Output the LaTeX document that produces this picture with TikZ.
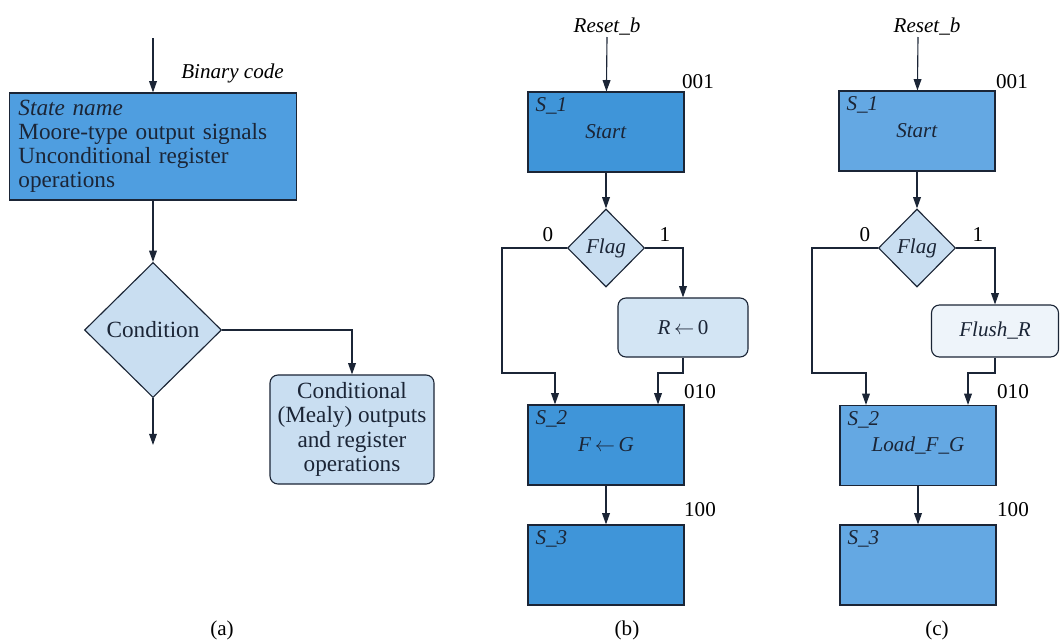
\documentclass[tikz,border=0pt]{standalone}
\usepackage{fontspec}
\setmainfont{Liberation Serif}
\usepackage{xcolor}
\usetikzlibrary{positioning, arrows.meta, shapes.geometric}
\definecolor{ink}{HTML}{1B2536}
\definecolor{stateA}{HTML}{4F9EE0}
\definecolor{stateB}{HTML}{3F95D9}
\definecolor{stateC}{HTML}{64A8E3}
\definecolor{decfill}{HTML}{C9DEF1}
\definecolor{condB}{HTML}{D3E5F4}
\definecolor{condC}{HTML}{EEF4FA}

\begin{document}
\begin{tikzpicture}[x=0.025cm, y=-0.025cm, font=\fontsize{15}{17}\selectfont,
    line width=0.8pt, draw=ink, >={Triangle[length=8pt,width=5.5pt]},
    statebox/.style={draw=ink, rectangle, inner sep=0pt, text=ink,
        minimum width=3.9cm, minimum height=2cm},
    decbox/.style={draw=ink, diamond, aspect=1, inner sep=0pt, fill=decfill, text=ink},
    condbox/.style={draw=ink, rectangle, rounded corners=0.2cm, inner sep=0pt, text=ink},
    sname/.style={anchor=north west, inner sep=2pt, xshift=0.12cm, yshift=-0.08cm,
        text=ink, font=\fontsize{15}{17}\selectfont\itshape},
    bigtext/.style={font=\fontsize{16.5}{17.2}\selectfont}]
    \useasboundingbox (0,0) rectangle (1060,640);

    % (a) ASM block elements
    \coordinate (ain) at (153,38);
    \node[right] (abin) at (176,73) {\textit{Binary code}};
    \node[statebox, bigtext, fill=stateA, minimum width=7.175cm, minimum height=2.675cm,
        text width=6.725cm, inner xsep=0.225cm, align=left] (astate) at (153,146.5)
        {\textit{State name}\\Moore-type output signals\\Unconditional register\\operations};
    \draw[->] (ain) -- (astate);
    \node[decbox, bigtext, minimum width=3.425cm, minimum height=3.375cm] (acond) at (153,330) {Condition};
    \draw[->] (astate) -- (acond);
    \node[condbox, bigtext, fill=decfill, minimum width=4.1cm, minimum height=2.725cm, align=center] (amealy)
        at (352,429.5) {Conditional\\(Mealy) outputs\\and register\\operations};
    \draw[->] (acond.east) -| (amealy.north);
    \coordinate (aout) at (153,445);
    \draw[->] (acond) -- (aout);
    \node (acap) at (222,630) {(a)};

    % (b) register transfer
    \coordinate (brst) at (607,37);
    \node (brstl) at (607,27) {\textit{Reset\_b}};
    \node[statebox, fill=stateB] (b1) at (606,132) {\textit{Start}};
    \node[sname] (b1n) at (b1.north west) {S\_1};
    \node (bc1) at (698,82) {001};
    \draw[->] (brst) -- (b1);
    \node[decbox, minimum width=1.925cm, minimum height=1.95cm] (bflag) at (606,248) {\textit{Flag}};
    \draw[->] (b1) -- (bflag);
    \node (bzero) at (548,235) {0};
    \node (bone) at (665,235) {1};
    \node[condbox, fill=condB, minimum width=3.25cm, minimum height=1.475cm] (br)
        at (683,327.5) {\textit{R}\,$\leftarrow$\,0};
    \draw[->] (bflag.east) -| (br.north);
    \node[statebox, fill=stateB] (b2) at (606,445) {\textit{F}\,$\leftarrow$\,\textit{G}};
    \node[sname] (b2n) at (b2.north west) {S\_2};
    \node (bc2) at (700,392) {010};
    \draw[->] (bflag.west) -| (502,373) -| ([xshift=-1.275cm]b2.north);
    \draw[->] (br.south) -- (683,373) -| ([xshift=1.3cm]b2.north);
    \node[statebox, fill=stateB] (b3) at (606,565) {};
    \node[sname] (b3n) at (b3.north west) {S\_3};
    \node (bc3) at (700,510) {100};
    \draw[->] (b2) -- (b3);
    \node (bcap) at (627,630) {(b)};

    % (c) control signals
    \begin{scope}[shift={(311,0)}]
        \coordinate (crst) at (607,37);
        \node (crstl) at (616,27) {\textit{Reset\_b}};
        \node[statebox, fill=stateC] (c1) at (606,131) {\textit{Start}};
        \node[sname] (c1n) at (c1.north west) {S\_1};
        \node (cc1) at (701,82) {001};
        \draw[->] (crst) -- (c1);
        \node[decbox, minimum width=1.925cm, minimum height=1.95cm] (cflag) at (606,248) {\textit{Flag}};
        \draw[->] (c1) -- (cflag);
        \node (czero) at (554,235) {0};
        \node (cone) at (667,235) {1};
        \node[condbox, fill=condC, minimum width=3.175cm, minimum height=1.3cm] (cr)
            at (684,331) {\textit{Flush\_R}};
        \draw[->] (cflag.east) -| (cr.north);
        \node[statebox, fill=stateC] (c2) at (607,445.5) {\textit{Load\_F\_G}};
        \node[sname] (c2n) at (c2.north west) {S\_2};
        \node (cc2) at (702,392) {010};
        \draw[->] (cflag.west) -| (501,373) -| ([xshift=-1.3cm]c2.north);
        \draw[->] (cr.south) -- (684,373) -| ([xshift=1.25cm]c2.north);
        \node[statebox, fill=stateC] (c3) at (607,565) {};
        \node[sname] (c3n) at (c3.north west) {S\_3};
        \node (cc3) at (702,510) {100};
        \draw[->] (c2) -- (c3);
        \node (ccap) at (626,630) {(c)};
    \end{scope}
\end{tikzpicture}
\end{document}
